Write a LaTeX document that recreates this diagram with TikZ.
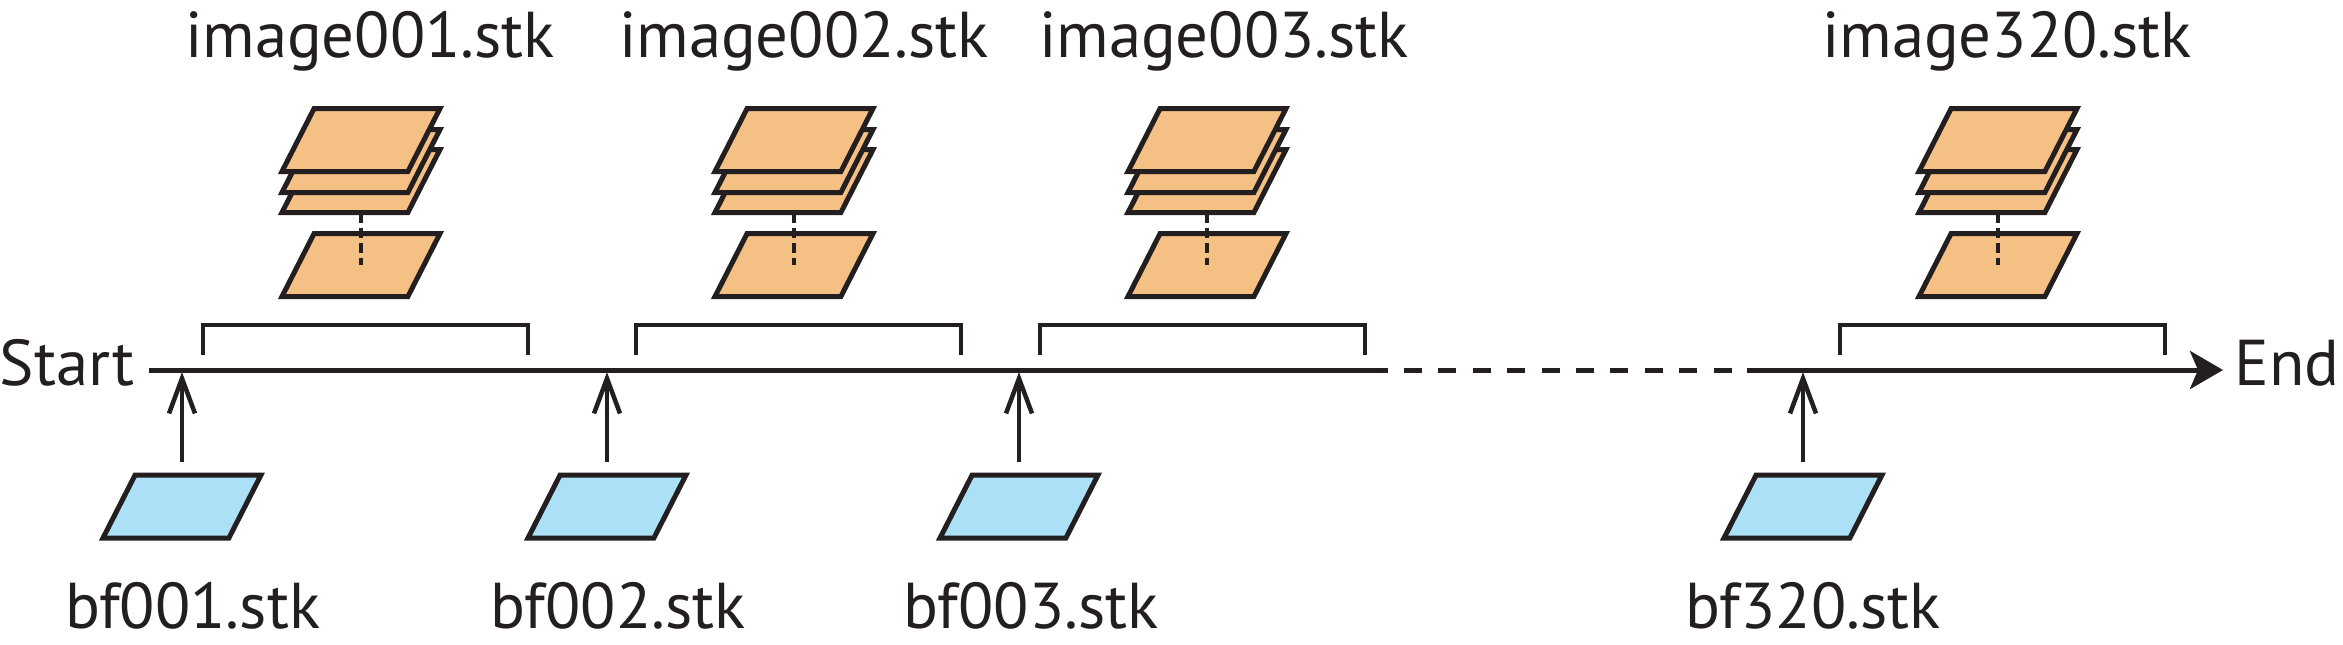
\documentclass[tikz,border=0pt]{standalone}
\usepackage{fontspec}
\setmainfont{PT Sans}
\usetikzlibrary{arrows.meta,shapes.geometric}
\definecolor{Ink}{RGB}{35,31,32}
\definecolor{Ofill}{RGB}{245,192,132}
\definecolor{Bfill}{RGB}{172,224,247}

\begin{document}
\begin{tikzpicture}[x=1pt,y=-1pt,line join=miter,
  page/.style={trapezium,trapezium left angle=63,trapezium right angle=117,trapezium stretches body,
    draw=Ink,line width=5pt,minimum width=158pt,inner xsep=0pt,inner ysep=31.5pt,outer sep=0pt},
  opage/.style={page,fill=Ofill},
  bpage/.style={page,fill=Bfill},
  label/.style={anchor=base,text=Ink,font=\fontsize{64.8}{70}\selectfont,inner sep=0pt},
  stackline/.style={draw=Ink,line width=4.5pt,dash pattern=on 10pt off 5pt},
  hold/.style={draw=Ink,line width=4.5pt},
  axis/.style={draw=Ink,line width=5pt},
  feed/.style={draw=Ink,line width=4.5pt,shorten <=13pt,-{Straight Barb[length=35pt,width=26pt,line width=4.5pt]}}]
\path[use as bounding box] (0,0) rectangle (2343,645);
\node[label] (start) at (67,385) {Start};
\node[label] (end) at (2287,385) {End};
\coordinate (t0) at (149,370);
\coordinate (t1) at (1388,370);
\coordinate (d0) at (1404,370);
\coordinate (d1) at (1733,370);
\coordinate (t2) at (1747,370);
\coordinate (t3) at (2223,370);
\draw[axis] (t0) -- (t1);
\draw[axis,dash pattern=on 18pt off 16.4pt] (d0) -- (d1);
\draw[axis,-{Stealth[length=33pt,width=38pt,inset=8pt]}] (t2) -- (t3);
\node[label] (im1) at (370,57) {image001.stk};
\node[label] (im2) at (804,57) {image002.stk};
\node[label] (im3) at (1224,57) {image003.stk};
\node[label] (im4) at (2007,57) {image320.stk};
\node[opage] (s1c) at (361,181) {};
\node[opage] (s1b) at (361,161) {};
\node[opage] (s1a) at (361,140) {};
\node[opage] (s1d) at (361,265) {};
\node[opage] (s2c) at (794,181) {};
\node[opage] (s2b) at (794,161) {};
\node[opage] (s2a) at (794,140) {};
\node[opage] (s2d) at (794,265) {};
\node[opage] (s3c) at (1207,181) {};
\node[opage] (s3b) at (1207,161) {};
\node[opage] (s3a) at (1207,140) {};
\node[opage] (s3d) at (1207,265) {};
\node[opage] (s4c) at (1998,181) {};
\node[opage] (s4b) at (1998,161) {};
\node[opage] (s4a) at (1998,140) {};
\node[opage] (s4d) at (1998,265) {};
\draw[stackline] (s1c.south) -- (s1d.center);
\draw[stackline] (s2c.south) -- (s2d.center);
\draw[stackline] (s3c.south) -- (s3d.center);
\draw[stackline] (s4c.south) -- (s4d.center);
\draw[hold] (203,355) -- (203,325) -- (528,325) -- (528,355);
\draw[hold] (636,355) -- (636,325) -- (961,325) -- (961,355);
\draw[hold] (1040,355) -- (1040,325) -- (1365,325) -- (1365,355);
\draw[hold] (1840,355) -- (1840,325) -- (2165,325) -- (2165,355);
\node[bpage] (bf1) at (182,506.5) {};
\node[bpage] (bf2) at (607,506.5) {};
\node[bpage] (bf3) at (1019,506.5) {};
\node[bpage] (bf4) at (1803,506.5) {};
\coordinate (a1) at (182,372);
\coordinate (a2) at (607,372);
\coordinate (a3) at (1019,372);
\coordinate (a4) at (1803,372);
\draw[feed] (bf1.north) -- (a1);
\draw[feed] (bf2.north) -- (a2);
\draw[feed] (bf3.north) -- (a3);
\draw[feed] (bf4.north) -- (a4);
\node[label] (lb1) at (192.5,628) {bf001.stk};
\node[label] (lb2) at (618,628) {bf002.stk};
\node[label] (lb3) at (1031,628) {bf003.stk};
\node[label] (lb4) at (1813,628) {bf320.stk};
\end{tikzpicture}
\end{document}
